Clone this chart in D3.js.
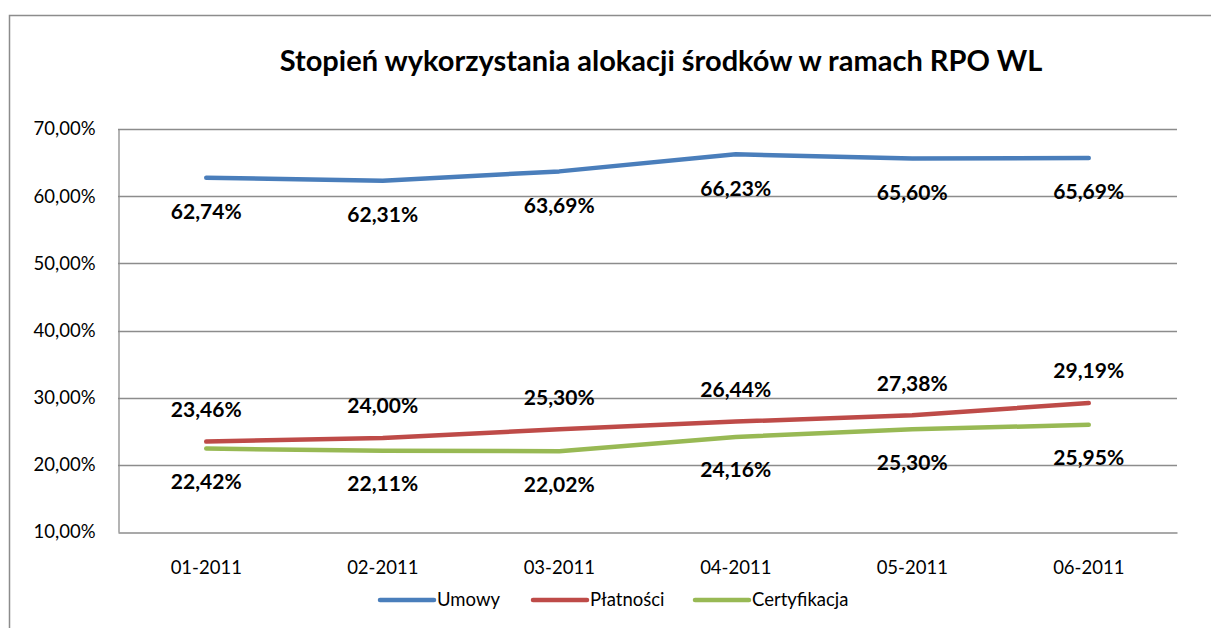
<!DOCTYPE html>
<html>
<head>
<meta charset="utf-8">
<script src="https://d3js.org/d3.v7.min.js"></script>
<style>
  body { margin: 0; background: #fff; }
  text { font-family: Lato, "Open Sans", sans-serif; fill: #000; }
</style>
</head>
<body>
<svg width="1211" height="628"></svg>
<script>
// data
var months = ["01-2011", "02-2011", "03-2011", "04-2011", "05-2011", "06-2011"];
var umowy = [62.74, 62.31, 63.69, 66.23, 65.60, 65.69];
var platnosci = [23.46, 24.00, 25.30, 26.44, 27.38, 29.19];
var certyfikacja = [22.42, 22.11, 22.02, 24.16, 25.30, 25.95];
var yTicks = [10, 20, 30, 40, 50, 60, 70];

var series = [
  { name: "Umowy", values: umowy, color: "#4a7ebb", labelDy: 34 },
  { name: "Płatności", values: platnosci, color: "#be4b48", labelDy: -32 },
  { name: "Certyfikacja", values: certyfikacja, color: "#98b954", labelDy: 33 }
];

var svg = d3.select("svg");

// outer chart border
svg.append("rect")
  .attr("x", 9.5).attr("y", 15.5)
  .attr("width", 1215).attr("height", 640)
  .attr("fill", "none")
  .attr("stroke", "#8c8c8c")
  .attr("stroke-width", 1.5);

svg.append("text")
  .attr("x", 661).attr("y", 71)
  .attr("text-anchor", "middle")
  .style("font-size", "29px")
  .style("font-weight", "bold")
  .text("Stopień wykorzystania alokacji środków w ramach RPO WL");

var plotLeft = 118, plotRight = 1177, plotTop = 129, plotBottom = 532;

var x = d3.scaleBand().domain(months).range([plotLeft, plotRight]);
var y = d3.scaleLinear().domain([10, 70]).range([plotBottom, plotTop]);
var fmt = function(v) { return v.toFixed(2).replace(".", ",") + "%"; };

// gridlines
svg.append("g").selectAll("line")
  .data(yTicks.filter(function(d) { return d > 10; }))
  .enter().append("line")
  .attr("x1", plotLeft).attr("x2", plotRight)
  .attr("y1", function(d) { return Math.round(y(d)) + 0.5; })
  .attr("y2", function(d) { return Math.round(y(d)) + 0.5; })
  .attr("stroke", "#8c8c8c").attr("stroke-width", 1.3);

// axes
var yAxis = d3.axisLeft(y).tickValues(yTicks).tickSize(0).tickPadding(23).tickFormat(fmt);
var gy = svg.append("g").attr("transform", "translate(" + (plotLeft + 0.5) + ",0)").call(yAxis);
gy.select(".domain").attr("stroke", "#8c8c8c").attr("stroke-width", 1.3);
gy.selectAll("text").style("font-size", "18.5px").style("font-family", "Lato, sans-serif");

var xAxis = d3.axisBottom(x).tickSize(0).tickPadding(28);
var gx = svg.append("g").attr("transform", "translate(0," + (plotBottom + 0.5) + ")").call(xAxis);
gx.select(".domain").attr("stroke", "#8c8c8c").attr("stroke-width", 1.3);
gx.selectAll("text").style("font-size", "18.5px").style("font-family", "Lato, sans-serif");

var line = d3.line()
  .x(function(d, i) { return x(months[i]) + x.bandwidth() / 2; })
  .y(function(d) { return y(d); });

series.forEach(function(s) {
  svg.append("path")
    .datum(s.values)
    .attr("d", line)
    .attr("fill", "none")
    .attr("stroke", s.color)
    .attr("stroke-width", 4.5)
    .attr("stroke-linecap", "round")
    .attr("stroke-linejoin", "round");

  svg.append("g").selectAll("text")
    .data(s.values)
    .enter().append("text")
    .attr("x", function(d, i) { return x(months[i]) + x.bandwidth() / 2; })
    .attr("y", function(d) { return y(d) + s.labelDy; })
    .attr("dy", "0.35em")
    .attr("text-anchor", "middle")
    .style("font-size", "21px")
    .style("font-weight", "bold")
    .text(fmt);
});

// legend
var legendX = [380, 533, 695];
var legend = svg.append("g").selectAll("g")
  .data(series)
  .enter().append("g")
  .attr("transform", function(d, i) { return "translate(" + legendX[i] + ",600)"; });
legend.append("line")
  .attr("x1", 0).attr("x2", 54)
  .attr("stroke", function(d) { return d.color; })
  .attr("stroke-width", 4.5)
  .attr("stroke-linecap", "round");
legend.append("text")
  .attr("x", 57).attr("dy", "0.35em")
  .style("font-size", "18.5px")
  .text(function(d) { return d.name; });
</script>
</body>
</html>
